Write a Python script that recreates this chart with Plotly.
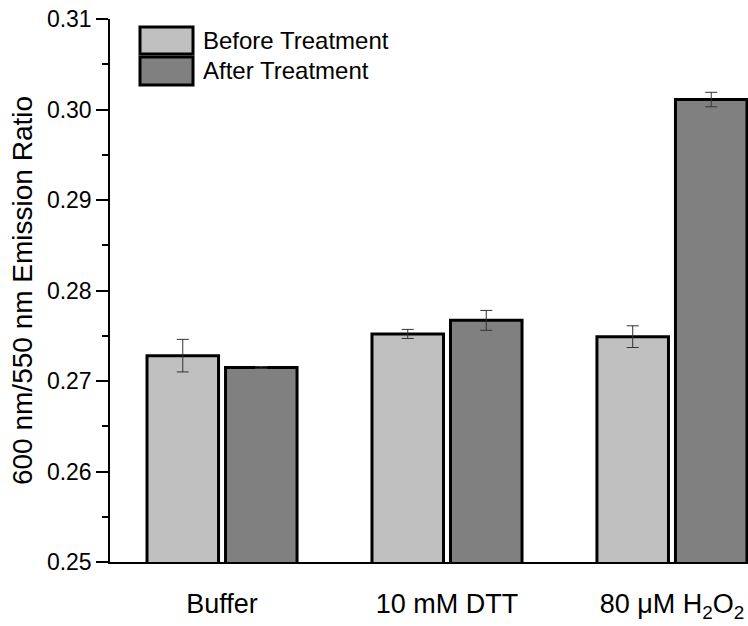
import plotly.graph_objects as go

# Emission ratio before / after treatment
categories = ["Buffer", "10 mM DTT", "80 μM H<sub>2</sub>O<sub>2</sub>"]
before_vals = [0.2728, 0.2752, 0.2749]
before_err = [0.0018, 0.0005, 0.0012]
after_vals = [0.2715, 0.2767, 0.3011]
after_err = [0.0001, 0.0011, 0.0008]
series_names = ["Before Treatment", "After Treatment"]
y_ticks = [0.25, 0.26, 0.27, 0.28, 0.29, 0.30, 0.31]

FONT = "Liberation Sans, Arial, sans-serif"
W, H = 748, 626
ML, MR, MT, MB = 110, 0, 19, 64
colors = ["#c0c0c0", "#808080"]

x_pos = list(range(len(categories)))

fig = go.Figure()
for name, vals, errs, col in zip(series_names, [before_vals, after_vals],
                                 [before_err, after_err], colors):
    fig.add_trace(go.Bar(
        x=x_pos, y=vals, name=name,
        marker=dict(color=col, line=dict(color="black", width=3)),
        error_y=dict(type="data", array=errs, visible=True,
                     color="#333333", thickness=1, width=6),
        showlegend=False,
    ))

fig.update_layout(
    width=W, height=H,
    margin=dict(l=ML, r=MR, t=MT, b=MB),
    paper_bgcolor="white", plot_bgcolor="white",
    barmode="group", bargap=0.302, bargroupgap=0.089,
    font=dict(family=FONT, color="black"),
)

fig.update_xaxes(
    range=[-0.498, 2.338],
    tickvals=x_pos, ticktext=categories,
    tickfont=dict(size=27, family=FONT),
    ticks="outside", ticklen=17, tickcolor="rgba(0,0,0,0)",
    showline=True, linecolor="black", linewidth=1.5,
    showgrid=False, zeroline=False,
)

fig.update_yaxes(
    range=[0.25, 0.31],
    tickvals=y_ticks, tickformat=".2f",
    tickfont=dict(size=23, family=FONT),
    ticks="outside", ticklen=12, tickwidth=1.5, tickcolor="black",
    minor=dict(dtick=0.005, ticks="outside", ticklen=6, tickwidth=1.5,
               tickcolor="black", showgrid=False),
    showline=True, linecolor="black", linewidth=1.5,
    showgrid=False, zeroline=False,
    title=dict(text="600 nm/550 nm Emission Ratio",
               font=dict(size=28, family=FONT), standoff=6),
)

# Legend drawn as framed swatches with text labels (pixel layout -> paper)
pw, ph = W - ML - MR, H - MT - MB

def px_x(x):
    return (x - ML) / pw

def px_y(y):
    return 1 - (y - MT) / ph

swatches = [(27, 54), (57, 85)]
for (y0, y1), col, name in zip(swatches, colors, series_names):
    fig.add_shape(type="rect", xref="paper", yref="paper",
                  x0=px_x(140), x1=px_x(193), y0=px_y(y1), y1=px_y(y0),
                  fillcolor=col, line=dict(color="black", width=3))
    fig.add_annotation(xref="paper", yref="paper", x=px_x(201),
                       y=px_y((y0 + y1) / 2), text=name, showarrow=False,
                       xanchor="left", yanchor="middle",
                       font=dict(size=24, family=FONT, color="black"))

fig.write_html("out.html")
